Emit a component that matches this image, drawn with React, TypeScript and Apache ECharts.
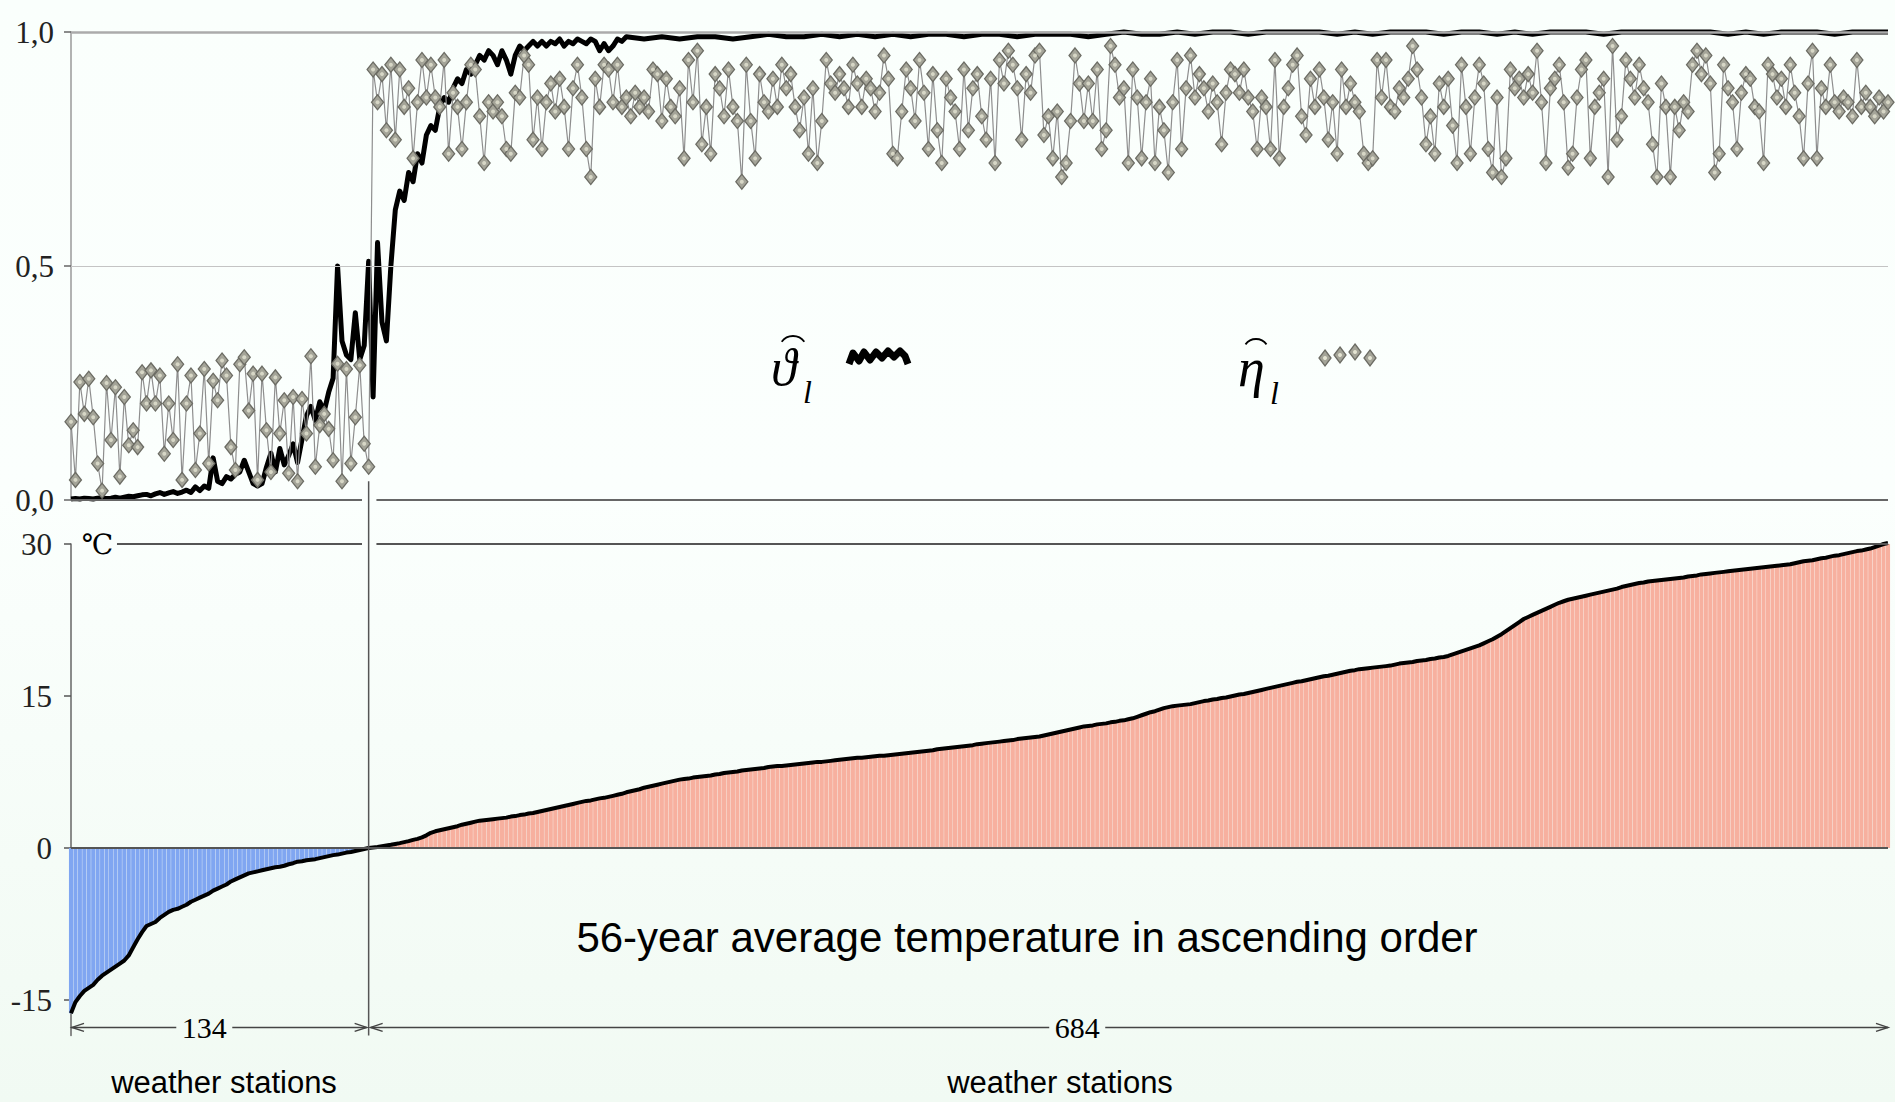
import React, { useEffect, useRef } from "react";
import * as echarts from "echarts";

// ---------------- data ----------------
const TOTAL_STATIONS = 818;
const COLD_STATIONS = 134; // stations with negative mean temperature
const WARM_STATIONS = 684;

const upperTicks = [0, 0.5, 1];
const lowerTicks = [-15, 0, 15, 30];

// eta-hat (grey diamonds), every 2nd station, stations 0..134
const etaLow = [
  0.167, 0.043, 0.252, 0.184, 0.259, 0.177, 0.078, 0.02, 0.25, 0.128,
  0.241, 0.05, 0.22, 0.117, 0.149, 0.113, 0.273, 0.206, 0.277, 0.206,
  0.266, 0.099, 0.206, 0.128, 0.29, 0.043, 0.206, 0.266, 0.064, 0.142,
  0.28, 0.078, 0.255, 0.213, 0.298, 0.266, 0.113, 0.064, 0.29, 0.305,
  0.191, 0.27, 0.043, 0.27, 0.149, 0.06, 0.262, 0.142, 0.213, 0.057,
  0.22, 0.04, 0.216, 0.142, 0.307, 0.071, 0.16, 0.184, 0.152, 0.085,
  0.291, 0.04, 0.28, 0.078, 0.177, 0.288, 0.12, 0.071,
];
// eta-hat, every 2nd station, stations 136..818
const etaHigh = [
  0.92, 0.85, 0.91, 0.79, 0.93, 0.77, 0.92, 0.84, 0.88, 0.73,
  0.85, 0.94, 0.86, 0.93, 0.86, 0.84, 0.94, 0.74, 0.87, 0.84,
  0.75, 0.85, 0.93, 0.92, 0.82, 0.72, 0.85, 0.83, 0.85, 0.82,
  0.75, 0.74, 0.87, 0.86, 0.95, 0.93, 0.77, 0.86, 0.75, 0.85,
  0.89, 0.83, 0.9, 0.84, 0.75, 0.88, 0.93, 0.86, 0.75, 0.69,
  0.9, 0.84, 0.93, 0.92, 0.85, 0.93, 0.84, 0.86, 0.82, 0.87,
  0.84, 0.86, 0.83, 0.92, 0.91, 0.81, 0.9, 0.84, 0.82, 0.88,
  0.73, 0.94, 0.85, 0.96, 0.76, 0.84, 0.74, 0.91, 0.88, 0.82,
  0.92, 0.84, 0.81, 0.68, 0.93, 0.81, 0.73, 0.91, 0.85, 0.83,
  0.9, 0.84, 0.93, 0.88, 0.91, 0.84, 0.79, 0.86, 0.74, 0.88,
  0.72, 0.81, 0.94, 0.89, 0.87, 0.91, 0.88, 0.84, 0.93, 0.89,
  0.84, 0.9, 0.88, 0.83, 0.87, 0.95, 0.9, 0.74, 0.73, 0.83,
  0.92, 0.88, 0.81, 0.94, 0.87, 0.75, 0.91, 0.79, 0.72, 0.9,
  0.86, 0.83, 0.75, 0.92, 0.79, 0.88, 0.91, 0.82, 0.77, 0.9,
  0.72, 0.94, 0.89, 0.96, 0.93, 0.88, 0.77, 0.91, 0.87, 0.95,
  0.96, 0.78, 0.82, 0.73, 0.83, 0.69, 0.72, 0.81, 0.95, 0.89,
  0.81, 0.89, 0.81, 0.92, 0.75, 0.79, 0.97, 0.93, 0.86, 0.88,
  0.72, 0.92, 0.86, 0.73, 0.85, 0.9, 0.72, 0.84, 0.79, 0.7,
  0.85, 0.94, 0.75, 0.88, 0.95, 0.86, 0.91, 0.88, 0.83, 0.89,
  0.85, 0.76, 0.87, 0.92, 0.91, 0.87, 0.92, 0.86, 0.83, 0.75,
  0.86, 0.84, 0.75, 0.94, 0.73, 0.84, 0.88, 0.93, 0.95, 0.82,
  0.78, 0.9, 0.84, 0.92, 0.86, 0.77, 0.85, 0.74, 0.92, 0.84,
  0.89, 0.85, 0.83, 0.74, 0.72, 0.73, 0.94, 0.86, 0.94, 0.84,
  0.83, 0.88, 0.86, 0.9, 0.97, 0.92, 0.86, 0.76, 0.82, 0.74,
  0.89, 0.84, 0.9, 0.8, 0.72, 0.93, 0.84, 0.74, 0.86, 0.93,
  0.89, 0.75, 0.7, 0.86, 0.69, 0.73, 0.92, 0.88, 0.9, 0.86,
  0.91, 0.87, 0.96, 0.85, 0.72, 0.88, 0.9, 0.93, 0.85, 0.71,
  0.74, 0.86, 0.92, 0.94, 0.73, 0.84, 0.87, 0.9, 0.69, 0.97,
  0.77, 0.82, 0.94, 0.9, 0.86, 0.93, 0.88, 0.85, 0.76, 0.69,
  0.89, 0.84, 0.69, 0.84, 0.79, 0.85, 0.83, 0.93, 0.96, 0.91,
  0.95, 0.89, 0.7, 0.74, 0.93, 0.88, 0.85, 0.75, 0.87, 0.91,
  0.9, 0.84, 0.83, 0.72, 0.93, 0.91, 0.86, 0.9, 0.84, 0.93,
  0.87, 0.82, 0.73, 0.89, 0.96, 0.73, 0.88, 0.84, 0.93, 0.85,
  0.83, 0.86, 0.85, 0.82, 0.94, 0.84, 0.87, 0.84, 0.82, 0.86, 0.83, 0.85,
];

// theta-hat (thick black), every 2nd station, stations 0..250
const thetaEarly = [
  0.002, 0.003, 0.002, 0.004, 0.003, 0.002, 0.004, 0.005, 0.003, 0.004,
  0.006, 0.004, 0.006, 0.008, 0.007, 0.009, 0.011, 0.012, 0.009, 0.013,
  0.016, 0.012, 0.015, 0.018, 0.014, 0.017, 0.021, 0.016, 0.028, 0.02,
  0.03, 0.025, 0.09, 0.04, 0.035, 0.05, 0.045, 0.055, 0.06, 0.085,
  0.06, 0.035, 0.03, 0.035, 0.07, 0.1, 0.06, 0.11, 0.075, 0.095,
  0.12, 0.08, 0.13, 0.18, 0.2, 0.17, 0.21, 0.19, 0.23, 0.26,
  0.5, 0.34, 0.31, 0.3, 0.4, 0.3, 0.33, 0.51, 0.22, 0.55,
  0.38, 0.34, 0.5, 0.62, 0.66, 0.64, 0.7, 0.68, 0.74, 0.72,
  0.78, 0.8, 0.79, 0.84, 0.86, 0.85, 0.88, 0.9, 0.89, 0.92,
  0.91, 0.93, 0.95, 0.94, 0.96, 0.95, 0.93, 0.96, 0.94, 0.91,
  0.95, 0.97, 0.96, 0.97, 0.98, 0.97, 0.98, 0.97, 0.98, 0.975,
  0.985, 0.97, 0.98, 0.975, 0.985, 0.98, 0.975, 0.985, 0.98, 0.96,
  0.975, 0.96, 0.97, 0.985, 0.98, 0.99,
];
// theta-hat, every 8th station, stations 258..818
const thetaLate = [
  0.985, 0.99, 0.985, 0.99, 0.99, 0.985, 0.99, 0.995, 0.99, 0.99,
  0.995, 0.99, 0.995, 0.99, 0.995, 0.99, 0.995, 0.995, 0.99, 0.995,
  0.995, 0.99, 0.995, 0.995, 0.995, 0.99, 0.995, 1, 0.995, 0.995,
  1, 0.995, 1, 1, 0.995, 1, 1, 1, 1, 0.995,
  1, 0.995, 1, 1, 1, 0.995, 1, 1, 0.995, 1,
  0.995, 1, 1, 1, 0.995, 1, 1, 1, 1, 1,
  1, 0.995, 1, 0.995, 1, 1, 1, 0.995, 1, 1, 1,
];

// 56-year mean temperature (°C), every 2nd station, stations 0..134
const tempCold = [
  -16.3, -15.2, -14.6, -14.1, -13.8, -13.5, -13.0, -12.6, -12.3, -12.0,
  -11.7, -11.4, -11.1, -10.6, -9.8, -9.0, -8.3, -7.7, -7.5, -7.3,
  -6.9, -6.6, -6.3, -6.1, -6.0, -5.8, -5.6, -5.3, -5.1, -4.9,
  -4.7, -4.5, -4.2, -4.0, -3.8, -3.6, -3.3, -3.1, -2.9, -2.7,
  -2.5, -2.4, -2.3, -2.2, -2.1, -2.0, -1.9, -1.85, -1.75, -1.6,
  -1.5, -1.35, -1.3, -1.2, -1.15, -1.1, -1.0, -0.9, -0.8, -0.7,
  -0.65, -0.55, -0.45, -0.4, -0.3, -0.2, -0.1, 0,
];
// every 2nd station, stations 136..818
const tempWarm = [
  0.05, 0.1, 0.18, 0.25, 0.32, 0.4, 0.48, 0.58, 0.68, 0.8,
  0.9, 1.05, 1.25, 1.5, 1.65, 1.75, 1.85, 1.95, 2.05, 2.15,
  2.3, 2.4, 2.5, 2.6, 2.7, 2.75, 2.8, 2.85, 2.9, 2.95,
  3.0, 3.1, 3.15, 3.25, 3.3, 3.4, 3.45, 3.55, 3.65, 3.75,
  3.85, 3.95, 4.05, 4.15, 4.25, 4.35, 4.45, 4.55, 4.65, 4.7,
  4.8, 4.9, 4.95, 5.05, 5.15, 5.25, 5.35, 5.5, 5.6, 5.7,
  5.8, 5.95, 6.05, 6.15, 6.25, 6.35, 6.45, 6.55, 6.65, 6.75,
  6.8, 6.85, 6.95, 7.0, 7.05, 7.1, 7.15, 7.25, 7.3, 7.4,
  7.45, 7.5, 7.55, 7.65, 7.7, 7.75, 7.8, 7.85, 7.9, 8.0,
  8.05, 8.1, 8.1, 8.15, 8.2, 8.25, 8.3, 8.35, 8.4, 8.45,
  8.5, 8.5, 8.55, 8.6, 8.65, 8.7, 8.75, 8.8, 8.85, 8.9,
  8.9, 8.95, 9.0, 9.05, 9.1, 9.1, 9.15, 9.2, 9.25, 9.3,
  9.35, 9.4, 9.45, 9.5, 9.55, 9.6, 9.65, 9.75, 9.8, 9.85,
  9.9, 9.95, 10.0, 10.05, 10.1, 10.15, 10.25, 10.3, 10.35, 10.4,
  10.45, 10.5, 10.55, 10.6, 10.65, 10.75, 10.8, 10.85, 10.9, 10.95,
  11.0, 11.1, 11.2, 11.3, 11.4, 11.5, 11.6, 11.7, 11.8, 11.9,
  12.0, 12.05, 12.1, 12.2, 12.25, 12.3, 12.4, 12.45, 12.55, 12.6,
  12.7, 12.8, 12.95, 13.1, 13.25, 13.4, 13.5, 13.65, 13.8, 13.9,
  14.0, 14.05, 14.1, 14.15, 14.2, 14.3, 14.4, 14.5, 14.55, 14.65,
  14.7, 14.8, 14.85, 14.95, 15.05, 15.15, 15.2, 15.3, 15.4, 15.5,
  15.6, 15.7, 15.8, 15.9, 16.0, 16.1, 16.2, 16.3, 16.4, 16.45,
  16.55, 16.65, 16.75, 16.85, 16.95, 17.0, 17.1, 17.2, 17.3, 17.4,
  17.5, 17.55, 17.65, 17.7, 17.75, 17.8, 17.85, 17.9, 17.95, 18.0,
  18.1, 18.2, 18.25, 18.3, 18.35, 18.45, 18.5, 18.55, 18.65, 18.7,
  18.8, 18.85, 18.95, 19.1, 19.25, 19.4, 19.55, 19.7, 19.85, 20.0,
  20.2, 20.4, 20.6, 20.85, 21.1, 21.4, 21.7, 22.0, 22.3, 22.6,
  22.8, 23.0, 23.2, 23.4, 23.6, 23.8, 24.0, 24.2, 24.35, 24.5,
  24.6, 24.7, 24.8, 24.9, 25.0, 25.1, 25.2, 25.3, 25.4, 25.5,
  25.6, 25.75, 25.85, 25.95, 26.05, 26.15, 26.2, 26.3, 26.35, 26.4,
  26.45, 26.5, 26.55, 26.6, 26.65, 26.7, 26.8, 26.85, 26.9, 27.0,
  27.05, 27.1, 27.15, 27.2, 27.25, 27.3, 27.35, 27.4, 27.45, 27.5,
  27.55, 27.6, 27.65, 27.7, 27.75, 27.8, 27.85, 27.9, 27.95, 28.0,
  28.1, 28.2, 28.3, 28.35, 28.4, 28.5, 28.6, 28.65, 28.75, 28.85,
  28.9, 29.0, 29.1, 29.2, 29.3, 29.35, 29.45, 29.55, 29.7, 29.85, 30.0, 30.1,
];

const titleText = "56-year average temperature in ascending order";
const stationsText = "weather stations";

// ---------------- component ----------------
const SERIF = '"Liberation Serif", "Times New Roman", "DejaVu Serif", serif';
const SANS = '"Liberation Sans", Arial, sans-serif';

export default function App() {
  const ref = useRef<HTMLDivElement>(null);

  useEffect(() => {
    document.body.style.margin = "0";
    const chart = echarts.init(ref.current!, null, { renderer: "svg" });

    const eta = [
      ...etaLow.map((v, i) => [i * 2, v]),
      ...etaHigh.map((v, i) => [COLD_STATIONS + 2 + i * 2, v]),
    ];
    const theta = [
      ...thetaEarly.map((v, i) => [i * 2, v]),
      ...thetaLate.map((v, i) => [258 + i * 8, v]),
    ];
    const temp = [
      ...tempCold.map((v, i) => [i * 2, v]),
      ...tempWarm.map((v, i) => [COLD_STATIONS + 2 + i * 2, v]),
    ];

    const seg = (x1: number, y1: number, x2: number, y2: number, color: string, width: number) => [
      { coord: [x1, y1], lineStyle: { color, width, type: "solid" } },
      { coord: [x2, y2] },
    ];

    const yMinLower = -18.5;

    chart.setOption({
      animation: false,
      backgroundColor: "transparent",
      grid: [
        { left: 71, right: 7, top: 32, height: 468 },
        { left: 71, right: 7, top: 544, height: 491.5 },
      ],
      xAxis: [0, 1].map((i) => ({
        type: "value",
        gridIndex: i,
        min: 0,
        max: TOTAL_STATIONS,
        show: false,
      })),
      yAxis: [
        {
          type: "value",
          gridIndex: 0,
          min: upperTicks[0],
          max: upperTicks[upperTicks.length - 1],
          interval: 0.5,
          axisLine: { show: true, lineStyle: { color: "#9a9a9a", width: 1.5 } },
          axisTick: { show: true, length: 7, lineStyle: { color: "#666", width: 1.5 } },
          splitLine: { show: false },
          axisLabel: {
            formatter: (v: number) => v.toFixed(1).replace(".", ","),
            fontFamily: SERIF,
            fontSize: 31,
            color: "#222",
            margin: 17,
            padding: [0, 0, 16, 0],
          },
        },
        {
          type: "value",
          gridIndex: 1,
          min: yMinLower,
          max: 30,
          axisLine: { show: true, lineStyle: { color: "#666", width: 1.5 } },
          axisTick: { show: true, length: 7, customValues: lowerTicks, lineStyle: { color: "#555", width: 1.5 } },
          splitLine: { show: false },
          axisLabel: {
            customValues: lowerTicks,
            fontFamily: SERIF,
            fontSize: 31,
            color: "#222",
            margin: 19,
          },
        },
      ],
      series: [
        {
          name: "upper-lines",
          type: "line",
          xAxisIndex: 0,
          yAxisIndex: 0,
          data: [],
          z: 1,
          silent: true,
          markLine: {
            silent: true,
            symbol: ["none", "none"],
            label: { show: false },
            lineStyle: { type: "solid" },
            data: [
              seg(0, 1, TOTAL_STATIONS, 1, "#ababab", 2.5),
              seg(0, 0.5, TOTAL_STATIONS, 0.5, "#c4c4c4", 1),
              seg(0, 0, COLD_STATIONS - 3, 0, "#666", 2),
              seg(COLD_STATIONS + 3.5, 0, TOTAL_STATIONS, 0, "#666", 2),
            ],
          },
        },
        {
          name: "theta",
          type: "line",
          xAxisIndex: 0,
          yAxisIndex: 0,
          data: theta,
          symbol: "none",
          clip: false,
          lineStyle: { color: "#000", width: 5, join: "round" },
          z: 3,
        },
        {
          name: "eta",
          type: "line",
          xAxisIndex: 0,
          yAxisIndex: 0,
          data: eta,
          symbol: "diamond",
          symbolSize: [12, 15],
          showSymbol: true,
          showAllSymbol: true,
          lineStyle: { color: "#8e8e8e", width: 1.2 },
          itemStyle: { color: "#a4a498", borderColor: "#6c6c64", borderWidth: 1.3 },
          z: 4,
        },
        {
          name: "eta-dot",
          type: "scatter",
          xAxisIndex: 0,
          yAxisIndex: 0,
          data: eta,
          symbol: "circle",
          symbolSize: 4,
          itemStyle: { color: "#e4e4d2" },
          z: 5,
          silent: true,
        },
        {
          name: "temp-bars",
          type: "bar",
          xAxisIndex: 1,
          yAxisIndex: 1,
          data: temp,
          barWidth: 4.1,
          itemStyle: {
            color: (p: any) => (p.value[1] < 0 ? "#80a6f1" : "#f7b09f"),
          },
          z: 2,
        },
        {
          name: "temp-line",
          type: "line",
          xAxisIndex: 1,
          yAxisIndex: 1,
          data: temp,
          symbol: "none",
          clip: false,
          lineStyle: { color: "#000", width: 4, join: "round" },
          z: 3,
          markLine: {
            silent: true,
            symbol: ["none", "none"],
            label: { show: false },
            lineStyle: { type: "solid" },
            data: [
              seg(0, 0, TOTAL_STATIONS, 0, "#555", 2),
              seg(20.7, 30, COLD_STATIONS - 3, 30, "#555", 2),
              seg(COLD_STATIONS + 3.5, 30, TOTAL_STATIONS, 30, "#555", 2),
            ],
          },
        },
      ],
    });

    const P = (g: number, x: number, y: number) =>
      chart.convertToPixel({ gridIndex: g } as any, [x, y]) as number[];

    const [xs, ySepTop] = P(0, COLD_STATIONS, 0.04);
    const [, ySepBot] = P(1, COLD_STATIONS, yMinLower);
    const [x0, yDim] = P(1, 0, -17.7);
    const [xEnd] = P(1, TOTAL_STATIONS, 0);
    const [xL1] = P(1, 60, 0);
    const [xL2] = P(1, 453, 0);
    const [xC, yC] = P(1, 3, 30);

    const line = (x1: number, y1: number, x2: number, y2: number, stroke = "#444", lw = 1.5) => ({
      type: "line",
      silent: true,
      z: 20,
      shape: { x1, y1, x2, y2 },
      style: { stroke, lineWidth: lw },
    });
    const arrow = (x: number, y: number, dir: number) => ({
      type: "polyline",
      silent: true,
      z: 20,
      shape: { points: [[x + dir * 12, y - 4], [x, y], [x + dir * 12, y + 4]] },
      style: { stroke: "#444", lineWidth: 1.5, fill: null },
    });
    const txt = (x: number, y: number, text: string, font: string, align = "center", vAlign = "middle") => ({
      type: "text",
      silent: true,
      z: 20,
      x,
      y,
      style: {
        text,
        font,
        fill: "#000",
        align,
        verticalAlign: vAlign,
        textAlign: align,
        textVerticalAlign: vAlign,
      },
    });
    const diamond = (cx: number, cy: number) => [
      {
        type: "polygon",
        silent: true,
        z: 20,
        shape: { points: [[cx, cy - 8], [cx + 6, cy], [cx, cy + 8], [cx - 6, cy]] },
        style: { fill: "#a4a498", stroke: "#6c6c64", lineWidth: 1.3 },
      },
      { type: "circle", silent: true, z: 21, shape: { cx, cy, r: 2 }, style: { fill: "#e4e4d2" } },
    ];

    const gap = 28;
    const elements: any[] = [
      line(xs, ySepTop, xs, ySepBot, "#555", 1.5),
      // dimension line, cold stations
      line(x0, yDim, xL1 - gap, yDim),
      line(xL1 + gap, yDim, xs - 2, yDim),
      arrow(x0 + 1, yDim, 1),
      arrow(xs - 2, yDim, -1),
      txt(xL1, yDim, String(COLD_STATIONS), `30px ${SERIF}`),
      // dimension line, warm stations
      line(xs + 2, yDim, xL2 - gap, yDim),
      line(xL2 + gap, yDim, xEnd, yDim),
      arrow(xs + 2, yDim, 1),
      arrow(xEnd, yDim, -1),
      txt(xL2, yDim, String(WARM_STATIONS), `30px ${SERIF}`),
      // labels
      txt(224, 1082, stationsText, `31px ${SANS}`),
      txt(1060, 1082, stationsText, `31px ${SANS}`),
      txt(1027, 937, titleText, `42px ${SANS}`),
      txt(xC + 4, yC, "℃", `28px ${SERIF}`, "left"),
      // legend theta
      txt(771, 367, "ϑ", `italic 52px ${SERIF}`, "left"),
      txt(803, 392, "l", `italic 32px ${SERIF}`, "left"),
      {
        type: "arc",
        silent: true,
        z: 20,
        shape: { cx: 793, cy: 350, r: 14, startAngle: Math.PI * 1.2, endAngle: Math.PI * 1.8, clockwise: true },
        style: { stroke: "#000", lineWidth: 1.8, fill: null },
      },
      {
        type: "polyline",
        silent: true,
        z: 20,
        shape: {
          points: [
            [849, 364], [853, 353], [859, 361], [864, 352], [870, 360], [876, 352], [882, 358],
            [888, 351], [894, 357], [900, 351], [905, 356], [908, 364],
          ],
        },
        style: { stroke: "#000", lineWidth: 7, fill: null, lineJoin: "round" },
      },
      // legend eta
      txt(1238, 368, "η", `italic 54px ${SERIF}`, "left"),
      txt(1270, 393, "l", `italic 32px ${SERIF}`, "left"),
      {
        type: "arc",
        silent: true,
        z: 20,
        shape: { cx: 1256, cy: 352, r: 13, startAngle: Math.PI * 1.2, endAngle: Math.PI * 1.8, clockwise: true },
        style: { stroke: "#000", lineWidth: 1.8, fill: null },
      },
      ...diamond(1325, 358),
      ...diamond(1340, 355),
      ...diamond(1355, 352),
      ...diamond(1370, 358),
    ];

    chart.setOption({ graphic: { elements } });

    return () => chart.dispose();
  }, []);

  return (
    <div
      ref={ref}
      style={{
        width: 1895,
        height: 1102,
        background: "linear-gradient(180deg, #fafffc 0%, #fbfffd 45%, #f1faf3 100%)",
      }}
    />
  );
}
